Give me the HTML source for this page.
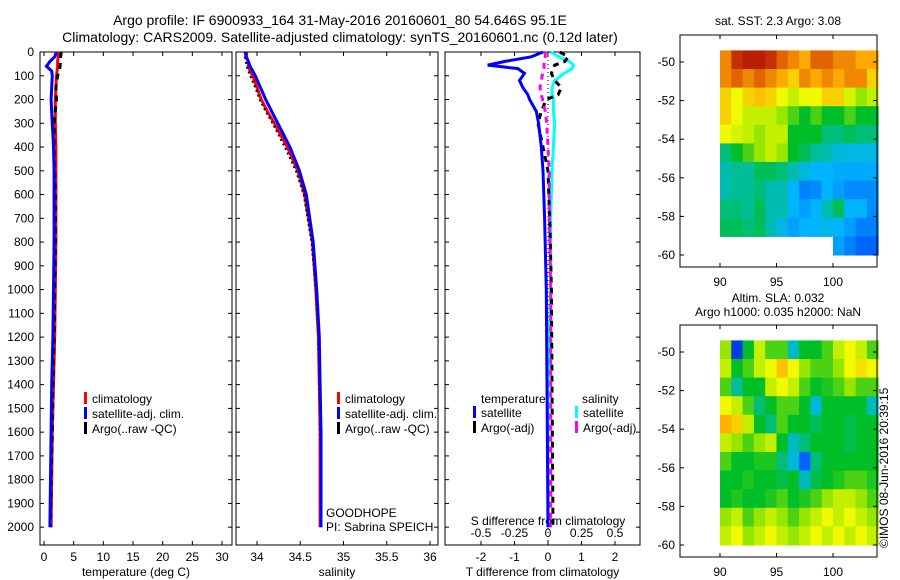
<!DOCTYPE html>
<html><head><meta charset="utf-8">
<style>
body{margin:0;background:#fff;}
svg{display:block;font-family:"Liberation Sans",sans-serif;}
</style></head>
<body>
<svg id="fig" width="900" height="580" viewBox="0 0 900 580">
<text x="340" y="25" font-size="14" text-anchor="middle">Argo profile: IF 6900933_164 31-May-2016 20160601_80 54.646S 95.1E</text>
<text x="340" y="42" font-size="14" text-anchor="middle">Climatology: CARS2009. Satellite-adjusted climatology: synTS_20160601.nc (0.12d later)</text>
<text x="778" y="25" font-size="12" text-anchor="middle">sat. SST: 2.3 Argo: 3.08</text>
<text x="778" y="302" font-size="12" text-anchor="middle">Altim. SLA: 0.032</text>
<text x="778" y="316" font-size="12" text-anchor="middle">Argo h1000: 0.035 h2000: NaN</text>
<text transform="translate(888,548) rotate(-90)" font-size="12">©IMOS 08-Jun-2016 20:39:15</text>
</svg>
<script>
// ---- data ----
const depths=[0,20,40,60,80,100,150,200,250,300,400,500,600,800,1000,1200,1400,1600,1800,2000];
const tempClim=[2.4,2.4,2.3,2.3,2.2,2.1,2.0,1.9,1.9,1.9,2.0,2.0,2.0,2.0,1.9,1.8,1.6,1.4,1.3,1.2];
const tempSat=[2.1,1.8,1.0,0.4,1.3,1.4,1.3,1.2,1.3,1.4,1.6,1.7,1.7,1.7,1.6,1.5,1.3,1.2,1.1,1.0];
const tempArgo=[2.9,2.8,2.8,2.7,2.6,2.3,2.0,2.1,1.9,1.7,1.7,1.8,1.9,1.9,1.8,1.7,1.5,1.4,1.2,1.1];
const salClim=[33.88,33.88,33.9,33.9,33.92,33.95,34.0,34.05,34.12,34.2,34.35,34.47,34.55,34.64,34.68,34.71,34.72,34.73,34.73,34.73];
const salSat=[33.87,33.87,33.9,33.92,33.95,33.98,34.04,34.1,34.17,34.24,34.38,34.49,34.57,34.65,34.69,34.72,34.73,34.74,34.74,34.74];
const salArgo=[33.86,33.86,33.87,33.88,33.9,33.92,33.98,34.03,34.1,34.18,34.32,34.45,34.54,34.63,34.68,34.71,34.72,34.73,34.74,34.74];
const diffDepths=[0,20,40,55,70,90,120,150,180,200,250,300,400,500,700,1000,1400,2000];
const dTsat=[-0.15,-0.5,-1.3,-1.8,-0.9,-0.7,-0.85,-0.75,-0.6,-0.55,-0.35,-0.28,-0.2,-0.15,-0.1,-0.05,-0.03,0.0];
const dTargo=[0.35,0.6,0.5,0.2,0.15,0.1,0.2,0.4,0.3,-0.05,-0.2,-0.3,-0.15,0,0.05,0.1,0.12,0.15];
const dSsat=[0.02,0.08,0.16,0.19,0.18,0.12,0.05,0.03,0.03,0.04,0.04,0.05,0.04,0.03,0.02,0.02,0.0,0.0];
const dSargo=[-0.02,-0.02,-0.03,-0.03,-0.03,-0.04,-0.05,-0.06,-0.05,-0.04,-0.02,-0.01,0.0,0.01,0.01,0.02,0.02,0.02];
const depthTicks=[0,100,200,300,400,500,600,700,800,900,1000,1100,1200,1300,1400,1500,1600,1700,1800,1900,2000];
const tempTicks=[0,5,10,15,20,25,30];
const salTicks=[34,34.5,35,35.5,36];
const salTickLabels=["34","34.5","35","35.5","36"];
const dTTicks=[-2,-1,0,1,2];
const dSTicks=[-0.5,-0.25,0,0.25,0.5];
const dSTickLabels=["-0.5","-0.25","0","0.25","0.5"];
const latTicks=[-50,-52,-54,-56,-58,-60];
const lonTicks=[90,95,100];
const sstGrid=[
[0.8,0.9,0.92,0.92,0.9,0.85,0.8,0.75,0.85,0.85,0.8,0.8,0.75,0.75],
[0.8,0.85,0.8,0.85,0.8,0.75,0.7,0.8,0.75,0.8,0.75,0.8,0.8,0.7],
[0.7,0.65,0.7,0.72,0.7,0.65,0.6,0.65,0.65,0.7,0.7,0.62,0.55,0.6],
[0.7,0.65,0.6,0.6,0.6,0.55,0.5,0.45,0.5,0.45,0.45,0.5,0.45,0.45],
[0.65,0.62,0.6,0.55,0.6,0.6,0.45,0.45,0.45,0.4,0.4,0.42,0.4,0.4],
[0.4,0.45,0.5,0.55,0.6,0.55,0.45,0.42,0.38,0.36,0.33,0.32,0.32,0.32],
[0.36,0.38,0.38,0.42,0.42,0.4,0.36,0.33,0.3,0.3,0.29,0.29,0.29,0.29],
[0.36,0.38,0.38,0.4,0.36,0.36,0.3,0.25,0.26,0.3,0.28,0.26,0.26,0.26],
[0.4,0.4,0.38,0.42,0.36,0.36,0.3,0.28,0.3,0.36,0.42,0.3,0.3,0.26],
[0.42,0.42,0.4,0.42,0.36,0.32,0.28,0.3,0.3,0.32,0.3,0.28,0.25,0.25],
[null,null,null,null,null,null,null,null,null,null,0.28,0.25,0.22,0.22]];
const slaGrid=[
[0.55,0.15,0.45,0.6,0.5,0.5,0.35,0.45,0.45,0.5,0.6,0.65,0.6,0.5],
[0.6,0.45,0.5,0.6,0.65,0.72,0.65,0.55,0.5,0.5,0.55,0.65,0.68,0.65],
[0.5,0.38,0.45,0.45,0.6,0.65,0.6,0.5,0.45,0.47,0.5,0.55,0.5,0.5],
[0.65,0.6,0.5,0.4,0.45,0.5,0.5,0.45,0.33,0.45,0.45,0.45,0.45,0.35],
[0.74,0.7,0.6,0.45,0.4,0.5,0.45,0.45,0.42,0.45,0.45,0.43,0.45,0.45],
[0.6,0.55,0.5,0.55,0.6,0.45,0.35,0.4,0.45,0.45,0.45,0.43,0.45,0.45],
[0.5,0.45,0.45,0.47,0.47,0.4,0.33,0.22,0.4,0.45,0.45,0.45,0.45,0.45],
[0.45,0.45,0.47,0.45,0.45,0.43,0.45,0.35,0.43,0.45,0.47,0.5,0.5,0.47],
[0.45,0.47,0.45,0.45,0.47,0.5,0.45,0.47,0.5,0.55,0.6,0.6,0.55,0.5],
[0.55,0.6,0.5,0.55,0.6,0.55,0.5,0.55,0.6,0.65,0.6,0.65,0.6,0.55],
[0.6,0.65,0.55,0.6,0.65,0.6,0.55,0.6,0.65,0.6,0.65,0.6,0.65,0.6]];

// ---- helpers ----
const svg=document.getElementById('fig');
const NS='http://www.w3.org/2000/svg';
function mk(tag,attrs,parent){const e=document.createElementNS(NS,tag);for(const k in attrs)e.setAttribute(k,attrs[k]);(parent||svg).appendChild(e);return e;}
function lin(d0,d1,r0,r1){return v=>r0+(v-d0)/(d1-d0)*(r1-r0);}
const cmapStops=[[0,[0,0,140]],[0.2,[0,80,255]],[0.3,[0,180,255]],[0.38,[0,190,150]],[0.45,[0,190,40]],[0.55,[150,230,0]],[0.65,[240,250,0]],[0.75,[255,170,0]],[0.85,[225,100,0]],[0.95,[170,0,0]],[1,[150,0,0]]];
function cmap(v){
  for(let i=1;i<cmapStops.length;i++){if(v<=cmapStops[i][0]){const a=cmapStops[i-1],b=cmapStops[i];const t=(v-a[0])/(b[0]-a[0]);
    const c=a[1].map((x,k)=>Math.round(x+(b[1][k]-x)*t));return `rgb(${c[0]},${c[1]},${c[2]})`;}}
  return 'rgb(150,0,0)';
}
const yD=lin(0,2075,52,545);

function profilePanel(name,x0,x1,xs,ticks,labels,xlabel){
  const g=mk('g',{});
  
  
  const box=mk('rect',{x:x0,y:52,width:x1-x0,height:493,fill:'none',stroke:'#000','stroke-width':1},g);
  
  
  depthTicks.forEach(d=>{const y=yD(d);
    mk('line',{x1:x0,x2:x0+4,y1:y,y2:y,stroke:'#000'},g);mk('line',{x1:x1,x2:x1-4,y1:y,y2:y,stroke:'#000'},g);
    if(name==='temperature-panel'){const t=mk('text',{x:x0-6,y:y+4,'font-size':12,'text-anchor':'end'},g);t.textContent=d;
      
      }
  });
  ticks.forEach((v,i)=>{const x=xs(v);
    mk('line',{x1:x,x2:x,y1:545,y2:541,stroke:'#000'},g);mk('line',{x1:x,x2:x,y1:52,y2:56,stroke:'#000'},g);
    if(labels){const t=mk('text',{x:x,y:561,'font-size':12,'text-anchor':'middle'},g);t.textContent=labels[i];
      
      }
  });
  const xl=mk('text',{x:(x0+x1)/2,y:576,'font-size':12,'text-anchor':'middle'},g);xl.textContent=xlabel;
  
  
  return g;
}
function series(g,name,xs,vals,dep,color,w,dash){
  const pts=vals.map((v,i)=>xs(v).toFixed(1)+','+yD(dep[i]).toFixed(1)).join(' ');
  const p=mk('polyline',{points:pts,fill:'none',stroke:color,'stroke-width':w,'stroke-dasharray':dash||'none'},g);
  
  
}
function legend(g,items,x,y){
  items.forEach((it,i)=>{
    const r=mk('rect',{x:x,y:y+i*15-11,width:3,height:12,fill:it[1]},g);
    
    
    const t=mk('text',{x:x+8,y:y+i*15,'font-size':12},g);t.textContent=it[0];
    
    
  });
}

// Panel 1 temperature
const xT=lin(0,30,44,222);
const g1=profilePanel('temperature-panel',40,232,xT,tempTicks,tempTicks.map(String),'temperature (deg C)');
series(g1,'temp-climatology',xT,tempClim,depths,'#f00',3);
series(g1,'temp-argo',xT,tempArgo,depths,'#000',3,'6,5');
series(g1,'temp-satellite-adj',xT,tempSat,depths,'#00f',3);
legend(g1,[['climatology','#f00'],['satellite-adj. clim.','#00f'],['Argo(..raw -QC)','#000']],84,403);

// Panel 2 salinity
const xS=lin(34,35,257,343.5);
const g2=profilePanel('salinity-panel',236,438,xS,salTicks,salTickLabels,'salinity');
series(g2,'sal-climatology',xS,salClim,depths,'#f00',3);
series(g2,'sal-argo',xS,salArgo,depths,'#000',2,'2,3');
series(g2,'sal-satellite-adj',xS,salSat,depths,'#00f',3);
legend(g2,[['climatology','#f00'],['satellite-adj. clim.','#00f'],['Argo(..raw -QC)','#000']],337,403);
const gh=mk('text',{x:326,y:517,'font-size':12},g2);gh.textContent='GOODHOPE';


const pi=mk('text',{x:326,y:531,'font-size':12},g2);pi.textContent='PI: Sabrina SPEICH';



// Panel 3 differences
const xDT=lin(0,1,548,581.5);
const xDS=lin(0,0.25,548,581.5);
const g3=profilePanel('difference-panel',445,640,xDT,dTTicks,dTTicks.map(String),'T difference from climatology');
dSTicks.forEach((v,i)=>{const t=mk('text',{x:xDS(v),y:537,'font-size':12,'text-anchor':'middle'},g3);t.textContent=dSTickLabels[i];
  
  });
const st=mk('text',{x:548,y:525,'font-size':12,'text-anchor':'middle'},g3);st.textContent='S difference from climatology';


const zl=mk('line',{x1:xDT(0),x2:xDT(0),y1:52,y2:545,stroke:'#000','stroke-dasharray':'1,3'},g3);


series(g3,'dS-satellite',xDS,dSsat,diffDepths,'#0ff',3);
series(g3,'dT-argo',xDT,dTargo,diffDepths,'#000',3,'6,5');
series(g3,'dS-argo',xDS,dSargo,diffDepths,'#f0f',3,'6,5');
series(g3,'dT-satellite',xDT,dTsat,diffDepths,'#00f',3);
const lt=mk('text',{x:481,y:403,'font-size':12},g3);lt.textContent='temperature';


const ls=mk('text',{x:582,y:403,'font-size':12},g3);ls.textContent='salinity';


legend(g3,[['satellite','#00f'],['Argo(-adj)','#000']],473,417);
legend(g3,[['satellite','#0ff'],['Argo(-adj)','#f0f']],575,417);

// Maps
function mapPanel(name,top,grid){
  const g=mk('g',{});
  
  
  const xL=lin(90,100,720,833);
  const yL=lin(-50,-60,top+27,top+220);
  const rows=grid.length,cols=grid[0].length;
  const latTop=-49.4,latBot=-60,lon0=90,lon1=104;
  const dLat=(latBot-latTop)/rows,dLon=(lon1-lon0)/cols;
  grid.forEach((row,r)=>row.forEach((v,c)=>{
    if(v===null)return;
    const xa=xL(lon0+c*dLon),xb=xL(lon0+(c+1)*dLon),ya=yL(latTop+r*dLat),yb=yL(latTop+(r+1)*dLat);
    const cell=mk('rect',{x:xa,y:ya,width:xb-xa+0.5,height:yb-ya+0.5,fill:cmap(v)},g);
    
    
  }));
  const f=mk('rect',{x:680,y:top,width:197,height:232,fill:'none',stroke:'#000'},g);
  
  
  latTicks.forEach(v=>{const y=yL(v);mk('line',{x1:680,x2:684,y1:y,y2:y,stroke:'#000'},g);mk('line',{x1:877,x2:873,y1:y,y2:y,stroke:'#000'},g);
    const t=mk('text',{x:675,y:y+4,'font-size':12,'text-anchor':'end'},g);t.textContent=v;
    
    });
  lonTicks.forEach(v=>{const x=xL(v);mk('line',{x1:x,x2:x,y1:top,y2:top+4,stroke:'#000'},g);mk('line',{x1:x,x2:x,y1:top+232,y2:top+228,stroke:'#000'},g);
    const t=mk('text',{x:x,y:top+251,'font-size':12,'text-anchor':'middle'},g);t.textContent=v;
    
    });
}
mapPanel('sst-map',35,sstGrid);
mapPanel('sla-map',325,slaGrid);
</script>
</body></html>
